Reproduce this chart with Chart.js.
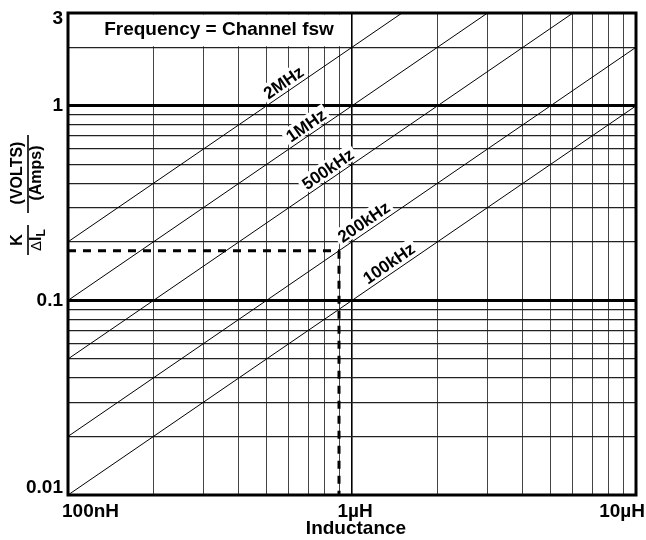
<!DOCTYPE html>
<html>
<head>
<meta charset="utf-8">
<script src="https://cdn.jsdelivr.net/npm/chart.js@4.4.1/dist/chart.umd.min.js"></script>
<style>
  body { margin: 0; background: #fff; }
  #wrap { width: 646px; height: 540px; }
</style>
</head>
<body>
<div id="wrap"><canvas id="kChart"></canvas></div>
<script>
// --- DATA ---
// inductance in µH, K/ΔIL in V/A
const freqLabels = ["100kHz", "200kHz", "500kHz", "1MHz", "2MHz"];
const lineStartL = [0.1, 0.1, 0.1, 0.1, 0.1];
const lineStartK = [0.01, 0.02, 0.05, 0.1, 0.2];
const lineEndL = [10, 10, 6, 3, 1.5];
const lineEndK = [1, 2, 3, 3, 3];
// where along each line its label sits (µH)
const labelAtL = [1.41, 1.15, 0.86, 0.72, 0.6];

// worked example, dashed
const exampleL = 0.9;
const exampleK = 0.18;

// gridlines and tick labels
const xGrid = [0.1, 0.2, 0.3, 0.4, 0.5, 0.6, 0.7, 0.8, 0.9, 1, 2, 3, 4, 5, 6, 7, 8, 9, 10];
const yGrid = [0.01, 0.02, 0.03, 0.04, 0.05, 0.06, 0.07, 0.08, 0.09,
               0.1, 0.2, 0.3, 0.4, 0.5, 0.6, 0.7, 0.8, 0.9, 1, 2, 3];
const xTickVals = [0.1, 1, 10];
const xTickText = ["100nH", "1\u00b5H", "10\u00b5H"];
const yTickVals = [0.01, 0.1, 1, 3];
const yTickText = ["0.01", "0.1", "1", "3"];

// title box in the top-left corner
const boxL = [0.1, 1];
const boxK = [2, 3];
const boxText = "Frequency = Channel fsw";

const FONT = "'Liberation Sans', Arial, sans-serif";

// --- datasets ---
const datasets = freqLabels.map((f, i) => ({
  label: f,
  data: [{ x: lineStartL[i], y: lineStartK[i] }, { x: lineEndL[i], y: lineEndK[i] }],
  showLine: true,
  borderColor: "#000",
  borderWidth: 1,
  pointRadius: 0,
}));
datasets.push({
  label: "exampleH",
  data: [{ x: xGrid[0], y: exampleK }, { x: exampleL, y: exampleK }],
  showLine: true, borderColor: "#000", borderWidth: 3, borderDash: [8, 7], pointRadius: 0,
});
datasets.push({
  label: "exampleV",
  data: [{ x: exampleL, y: exampleK }, { x: exampleL, y: yGrid[0] }],
  showLine: true, borderColor: "#000", borderWidth: 3, borderDash: [8, 7], pointRadius: 0,
});

// --- decorations: title box, line labels, frame, tick text ---
const decor = {
  id: "decor",
  afterDatasetsDraw(chart) {
    const ctx = chart.ctx;
    const xs = chart.scales.x, ys = chart.scales.y;
    const area = chart.chartArea;

    // title box (blank out the grid under it)
    const bx0 = xs.getPixelForValue(boxL[0]), bx1 = xs.getPixelForValue(boxL[1]);
    const by0 = ys.getPixelForValue(boxK[1]), by1 = ys.getPixelForValue(boxK[0]);
    ctx.save();
    ctx.fillStyle = "#fff";
    ctx.fillRect(bx0 + 1.5, by0 + 1.5, bx1 - bx0 - 2.5, by1 - by0 - 2.5);
    ctx.fillStyle = "#000";
    ctx.font = "bold 19px " + FONT;
    ctx.textAlign = "center";
    ctx.textBaseline = "alphabetic";
    ctx.fillText(boxText, (bx0 + bx1) / 2 + 9, by0 + 22);
    ctx.restore();

    // frequency labels along the lines
    freqLabels.forEach((txt, i) => {
      const x0 = xs.getPixelForValue(lineStartL[i]), y0 = ys.getPixelForValue(lineStartK[i]);
      const x1 = xs.getPixelForValue(lineEndL[i]), y1 = ys.getPixelForValue(lineEndK[i]);
      const ang = Math.atan2(y1 - y0, x1 - x0);
      const px = xs.getPixelForValue(labelAtL[i]);
      const py = y0 + (y1 - y0) * (px - x0) / (x1 - x0);
      ctx.save();
      ctx.translate(px, py);
      ctx.rotate(ang);
      ctx.font = "bold 17px " + FONT;
      const w = ctx.measureText(txt).width;
      ctx.fillStyle = "#fff";
      ctx.fillRect(-w / 2 - 3, -19, w + 6, 17);
      ctx.fillStyle = "#000";
      ctx.textAlign = "center";
      ctx.textBaseline = "alphabetic";
      ctx.fillText(txt, 0, -4);
      ctx.restore();
    });

    // frame
    ctx.save();
    ctx.strokeStyle = "#000";
    ctx.lineWidth = 3;
    ctx.strokeRect(area.left, area.top, area.right - area.left, area.bottom - area.top);

    // x tick text, kept inside the canvas like the original
    ctx.fillStyle = "#000";
    ctx.font = "bold 19px " + FONT;
    ctx.textBaseline = "alphabetic";
    ctx.textAlign = "left";
    xTickVals.forEach((v, i) => {
      const w = ctx.measureText(xTickText[i]).width;
      const cx = xs.getPixelForValue(v);
      const left = Math.min(Math.max(cx - w / 2 + 3, area.left - 6), chart.width - 1 - w);
      ctx.fillText(xTickText[i], left, area.bottom + 22);
    });
    ctx.textAlign = "center";
    ctx.fillText("Inductance", (area.left + area.right) / 2 + 4, area.bottom + 39);

    // y tick text
    ctx.textAlign = "right";
    ctx.textBaseline = "middle";
    yTickVals.forEach((v, i) => {
      let y = ys.getPixelForValue(v);
      y = Math.min(Math.max(y, area.top + 6), area.bottom - 7);
      ctx.fillText(yTickText[i], area.left - 5, y);
    });

    // y title: K/ΔIL (VOLTS)/(Amps), rotated
    ctx.translate(28, 195);
    ctx.rotate(-Math.PI / 2);
    ctx.textAlign = "center";
    ctx.textBaseline = "middle";
    ctx.font = "bold 16px " + FONT;
    ctx.fillText("(VOLTS)", 22, -10);
    ctx.fillText("(Amps)", 22, 9);
    ctx.lineWidth = 1.6;
    ctx.beginPath();
    ctx.moveTo(-18, 0); ctx.lineTo(60, 0);
    ctx.moveTo(-60, 0); ctx.lineTo(-30, 0);
    ctx.stroke();
    ctx.fillText("K", -45, -10);
    ctx.textAlign = "left";
    ctx.font = "15px " + FONT;
    const dW = ctx.measureText("\u0394").width;
    ctx.font = "bold 16px " + FONT;
    const iW = ctx.measureText("I").width;
    ctx.font = "bold 12px " + FONT;
    const lW = ctx.measureText("L").width;
    let sx = -45 - (dW + iW + lW) / 2;
    ctx.font = "15px " + FONT;
    ctx.fillText("\u0394", sx, 9);
    sx += dW;
    ctx.font = "bold 16px " + FONT;
    ctx.fillText("I", sx, 9);
    sx += iW;
    ctx.font = "bold 12px " + FONT;
    ctx.fillText("L", sx, 14);
    ctx.restore();
  },
};

new Chart(document.getElementById("kChart"), {
  type: "scatter",
  data: { datasets },
  options: {
    responsive: true,
    maintainAspectRatio: false,
    animation: false,
    layout: { padding: { top: 13, right: 10, left: 0, bottom: 0 } },
    plugins: { legend: { display: false }, tooltip: { enabled: false } },
    scales: {
      x: {
        type: "logarithmic",
        min: 0.1,
        max: 10,
        afterBuildTicks: (s) => { s.ticks = xGrid.map((v) => ({ value: v })); },
        afterFit: (s) => { s.height = 45; },
        ticks: { display: false },
        border: { display: false },
        grid: {
          drawTicks: false,
          color: (c) => (c.tick && c.tick.value === 1 ? "#000" : "#444"),
          lineWidth: (c) => (c.tick && c.tick.value === 1 ? 1.6 : 1),
        },
      },
      y: {
        type: "logarithmic",
        min: 0.01,
        max: 3,
        afterBuildTicks: (s) => { s.ticks = yGrid.map((v) => ({ value: v })); },
        afterFit: (s) => { s.width = 68; },
        ticks: { display: false },
        border: { display: false },
        grid: {
          drawTicks: false,
          color: (c) => (c.tick && (c.tick.value === 0.1 || c.tick.value === 1) ? "#000" : "#222"),
          lineWidth: (c) => (c.tick && (c.tick.value === 0.1 || c.tick.value === 1) ? 3 : 1.3),
        },
      },
    },
  },
  plugins: [decor],
});
</script>
</body>
</html>
